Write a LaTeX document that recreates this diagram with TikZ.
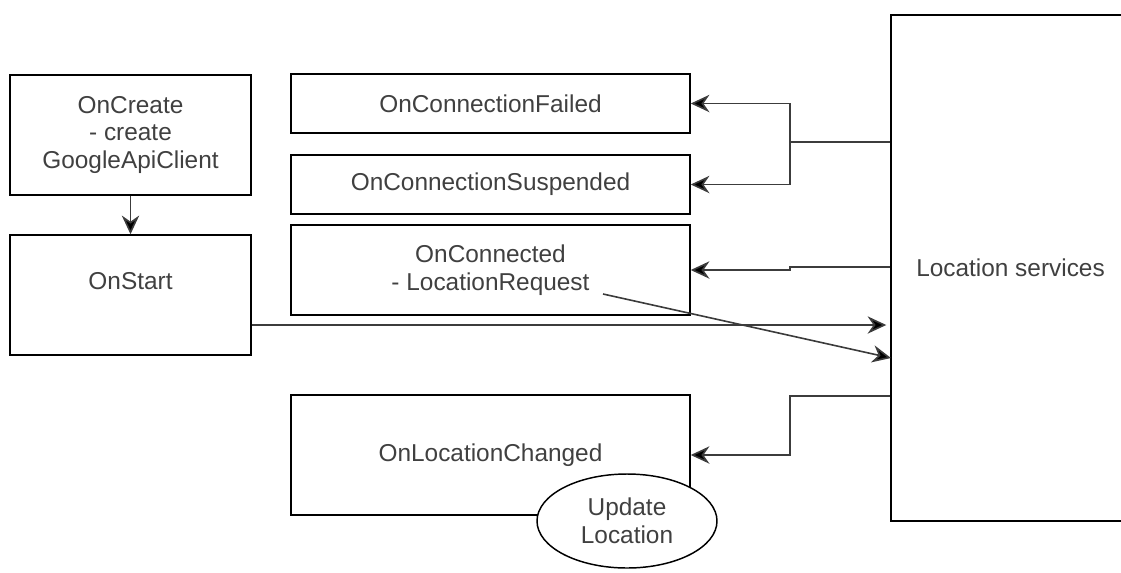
\documentclass[tikz,border=0pt]{standalone}
\usepackage{fontspec}
\setmainfont{Liberation Sans}
\usetikzlibrary{arrows.meta,shapes.geometric}
\definecolor{txt}{HTML}{404040}
\definecolor{wire}{HTML}{3C3C3C}
\begin{document}
\begin{tikzpicture}[x=0.75pt,y=-0.75pt,
  every node/.style={font=\fontsize{18.3}{20.6}\selectfont,text=txt,align=center},
  box/.style={draw=black,line width=1.1pt,rectangle,inner sep=0pt},
  wirestyle/.style={draw=wire,line width=1.2pt},
  arr/.style={wirestyle,-{Stealth[length=14pt,width=13pt,inset=4.5pt,fill=black]}}]
\useasboundingbox (0,0) rectangle (1121,572);
\clip (0,0) rectangle (1121,572);

% activity callbacks
\node[box,minimum width=180.75pt,minimum height=90pt] (create) at (130.5,135)
  {OnCreate\\- create\\GoogleApiClient};
\node[box,minimum width=180.75pt,minimum height=90pt] (start) at (130.5,295)
  {OnStart\\\mbox{}};

% connection callbacks
\node[box,minimum width=299.25pt,minimum height=44.25pt] (failed) at (490.5,103.5)
  {OnConnectionFailed};
\node[box,minimum width=299.25pt,minimum height=44.25pt] (suspended) at (490.5,184.5)
  {OnConnectionSuspended};
\node[box,minimum width=299.25pt,minimum height=67.5pt] (connected) at (490.5,270)
  {OnConnected\\- LocationRequest};
\node[box,minimum width=299.25pt,minimum height=90pt] (changed) at (490.5,455)
  {\raisebox{2pt}{OnLocationChanged}};
\node[draw=black,line width=1.1pt,fill=white,ellipse,inner sep=0pt,
  minimum width=135pt,minimum height=70.5pt] (update) at (627,521)
  {Update\\Location};

% service
\node[box,minimum width=179.25pt,minimum height=379.5pt] (ls) at (1010.5,268)
  {Location services};

% junctions and end points
\coordinate (j1) at (790,142);
\coordinate (j2) at (790,267);
\coordinate (j3) at (790,396);
\coordinate (s1) at (251,325);
\coordinate (d0) at (603,294);
\coordinate (d1) at (891,358);

\draw[arr] (create) -- (start);

\draw[wirestyle] (ls.west |- j1) -- (j1);
\draw[arr] (j1) |- (failed.east);
\draw[arr] (j1) |- (suspended.east);

\draw[arr] (ls.west |- j2) -- (j2) |- (connected.east);

\draw[arr,shorten >=3pt] (start.east |- s1) -- (ls.west |- s1);
\draw[arr] (d0) -- (d1);

\draw[arr] (ls.west |- j3) -- (j3) |- (changed.east);
\end{tikzpicture}
\end{document}
